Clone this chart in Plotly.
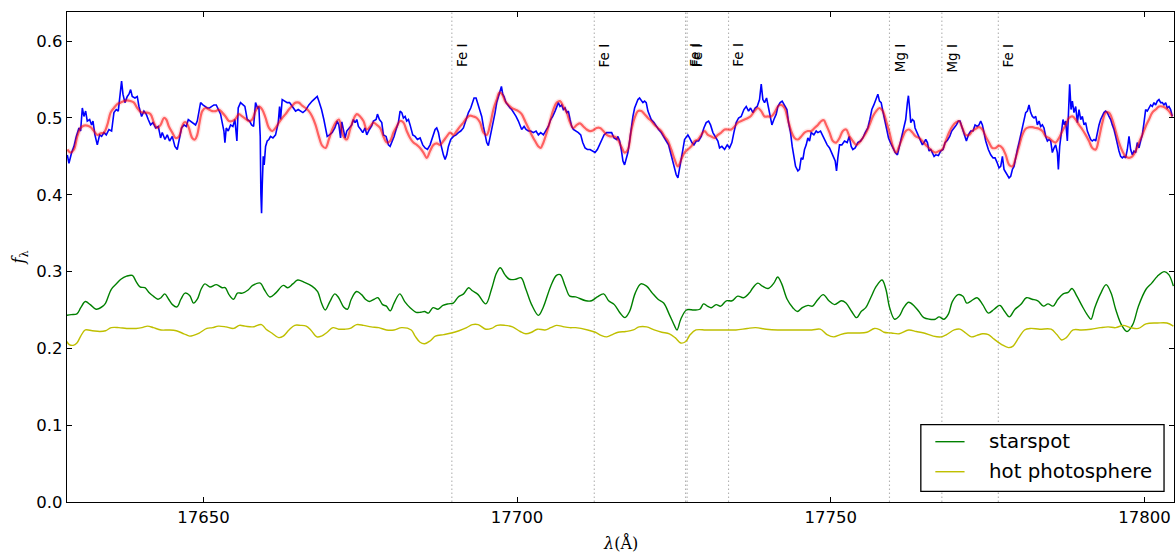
import plotly.graph_objects as go

# ---------------- data ----------------
obs_wl = [17628.31,17628.57,17629.00,17629.37,17629.74,17630.17,17630.43,17630.70,17630.96,17631.23,17631.49,17631.87,17632.18,17632.40,17632.71,17633.09,17633.46,17633.78,17634.15,17634.52,17634.95,17635.37,17635.74,17636.11,17636.43,17636.64,17636.96,17637.18,17637.49,17637.87,17638.13,17638.40,17638.66,17639.09,17639.46,17639.73,17640.15,17640.52,17640.89,17641.21,17641.58,17641.96,17642.38,17642.81,17643.18,17643.44,17643.87,17644.24,17644.61,17645.04,17645.46,17645.83,17646.10,17646.52,17646.90,17647.27,17647.59,17647.96,17648.33,17648.75,17649.02,17649.29,17649.55,17649.92,17650.24,17650.61,17650.98,17651.41,17651.68,17652.05,17652.37,17652.74,17653.00,17653.27,17653.43,17653.64,17653.96,17654.33,17654.70,17655.02,17655.34,17655.55,17655.92,17656.30,17656.61,17656.99,17657.36,17657.68,17658.00,17658.31,17658.63,17658.84,17659.06,17659.16,17659.27,17659.38,17659.54,17659.69,17659.91,17660.17,17660.44,17660.70,17661.08,17661.50,17661.93,17662.14,17662.30,17662.56,17662.99,17663.36,17663.73,17664.16,17664.69,17665.11,17665.48,17665.86,17666.28,17666.81,17667.34,17667.77,17668.14,17668.40,17668.83,17669.20,17669.47,17669.73,17670.10,17670.53,17670.95,17671.33,17671.59,17671.86,
17672.06,17672.32,17672.59,17672.85,17673.28,17673.65,17673.91,17674.18,17674.45,17674.71,17675.08,17675.40,17675.77,17676.04,17676.46,17676.84,17677.10,17677.53,17677.74,17678.06,17678.43,17678.69,17679.12,17679.49,17679.76,17680.02,17680.39,17680.71,17681.08,17681.35,17681.62,17681.88,17682.15,17682.41,17682.68,17682.94,17683.37,17683.74,17684.11,17684.54,17684.96,17685.33,17685.71,17686.13,17686.55,17686.93,17687.19,17687.46,17687.72,17687.99,17688.25,17688.52,17688.79,17689.05,17689.42,17689.85,17690.27,17690.64,17691.02,17691.44,17691.87,17692.24,17692.61,17692.93,17693.14,17693.46,17693.67,17693.99,17694.36,17694.63,17694.89,17695.16,17695.42,17695.69,17695.96,17696.22,17696.49,17696.75,17697.02,17697.28,17697.50,17697.71,17697.92,17698.24,17698.61,17698.88,17699.14,17699.51,17699.83,17700.20,17700.47,17700.73,17701.11,17701.43,17701.80,17702.17,17702.59,17703.02,17703.39,17703.76,17704.19,17704.61,17704.98,17705.36,17705.67,17706.05,17706.31,17706.58,17706.84,17707.11,17707.37,17707.64,17707.91,17708.17,17708.44,17708.70,17708.97,17709.39,17709.76,17710.14,17710.46,17710.83,17711.20,17711.62,17712.05,17712.42,17712.79,17713.11,17713.48,17713.85,17714.28,17714.70,17715.07,17715.45,17715.87,
17716.07,17716.34,17716.60,17716.87,17717.13,17717.40,17717.66,17717.93,17718.19,17718.46,17718.73,17718.99,17719.26,17719.52,17719.79,17720.05,17720.32,17720.58,17720.85,17721.12,17721.38,17721.81,17722.18,17722.55,17722.97,17723.40,17723.77,17724.14,17724.46,17724.83,17725.10,17725.36,17725.63,17725.90,17726.16,17726.43,17726.69,17726.96,17727.22,17727.49,17727.86,17728.18,17728.55,17728.92,17729.35,17729.77,17730.14,17730.52,17730.83,17731.21,17731.58,17732.00,17732.27,17732.64,17733.07,17733.49,17733.86,17734.23,17734.55,17734.92,17735.30,17735.72,17736.15,17736.52,17736.89,17737.21,17737.58,17737.95,17738.27,17738.64,17738.91,17739.17,17739.44,17739.76,17740.08,17740.39,17740.61,17740.93,17741.30,17741.56,17741.93,17742.25,17742.62,17743.00,17743.26,17743.58,17743.85,17744.11,17744.38,17744.75,17745.01,17745.28,17745.55,17745.81,17746.08,17746.34,17746.61,17746.87,17747.30,17747.67,17747.94,17748.36,17748.73,17749.10,17749.42,17749.80,17750.17,17750.49,17750.70,17750.91,17751.12,17751.39,17751.76,17752.18,17752.61,17752.93,17753.25,17753.51,17753.88,17754.31,17754.73,17755.10,17755.48,17755.90,17756.22,17756.54,17756.86,17757.23,17757.50,17757.76,17758.03,17758.29,17758.56,17758.88,17759.20,17759.51,17759.89,17760.26,
17760.62,17760.88,17761.15,17761.41,17761.68,17761.94,17762.21,17762.37,17762.58,17762.74,17763.01,17763.27,17763.43,17763.64,17763.96,17764.33,17764.60,17764.86,17765.13,17765.40,17765.66,17765.93,17766.19,17766.46,17766.72,17767.15,17767.52,17767.89,17768.21,17768.58,17768.95,17769.27,17769.64,17770.02,17770.33,17770.60,17770.87,17771.24,17771.61,17771.93,17772.30,17772.67,17772.99,17773.36,17773.63,17773.89,17774.16,17774.42,17774.69,17775.11,17775.49,17775.86,17776.18,17776.55,17776.81,17777.08,17777.35,17777.61,17777.88,17778.14,17778.41,17778.67,17778.94,17779.20,17779.47,17779.74,17780.00,17780.27,17780.53,17780.80,17781.06,17781.33,17781.59,17781.86,17782.13,17782.39,17782.66,17782.92,17783.19,17783.45,17783.72,17783.98,17784.25,17784.52,17784.78,17785.05,17785.31,17785.58,17785.84,17786.11,17786.27,17786.48,17786.80,17787.01,17787.22,17787.44,17787.70,17787.86,17788.07,17788.29,17788.50,17788.76,17789.03,17789.30,17789.56,17789.83,17790.09,17790.36,17790.62,17790.89,17791.15,17791.42,17791.68,17791.95,17792.22,17792.48,17792.75,17793.01,17793.28,17793.54,17793.81,17794.07,17794.34,17794.61,17794.87,17795.14,17795.40,17795.67,17795.93,17796.20,17796.46,17796.73,17796.99,17797.26,17797.53,17797.79,17798.06,17798.32,17798.59,17798.85,17799.12,17799.38,17799.65,17799.92,17800.18,17800.45,17800.71,17800.98,17801.24,17801.51,17801.77,17802.04,17802.31,17802.57,17802.84,17803.10,17803.37,17803.63,17803.90,17804.16,17804.43]
obs_flux = [0.452,0.441,0.455,0.463,0.476,0.487,0.483,0.513,0.502,0.509,0.496,0.498,0.491,0.496,0.478,0.465,0.478,0.476,0.481,0.478,0.485,0.483,0.507,0.511,0.509,0.522,0.548,0.531,0.520,0.528,0.531,0.537,0.528,0.526,0.528,0.515,0.502,0.509,0.505,0.498,0.491,0.494,0.487,0.489,0.474,0.481,0.472,0.478,0.470,0.476,0.463,0.459,0.472,0.487,0.491,0.489,0.498,0.496,0.494,0.491,0.496,0.511,0.520,0.517,0.515,0.513,0.513,0.515,0.517,0.517,0.511,0.505,0.494,0.483,0.468,0.487,0.483,0.491,0.489,0.498,0.470,0.513,0.520,0.517,0.515,0.498,0.496,0.491,0.489,0.520,0.513,0.515,0.476,0.402,0.376,0.413,0.450,0.439,0.463,0.470,0.472,0.476,0.474,0.478,0.494,0.515,0.498,0.524,0.522,0.520,0.520,0.515,0.509,0.511,0.509,0.507,0.510,0.517,0.522,0.525,0.528,0.522,0.511,0.498,0.487,0.476,0.478,0.481,0.487,0.496,0.491,0.474,
0.495,0.483,0.474,0.483,0.487,0.491,0.498,0.494,0.498,0.489,0.485,0.481,0.487,0.478,0.485,0.490,0.496,0.498,0.505,0.498,0.494,0.478,0.476,0.465,0.463,0.468,0.476,0.485,0.494,0.509,0.507,0.500,0.502,0.496,0.498,0.491,0.478,0.476,0.472,0.474,0.465,0.461,0.459,0.465,0.476,0.485,0.487,0.481,0.470,0.459,0.452,0.446,0.452,0.463,0.472,0.476,0.478,0.481,0.483,0.487,0.498,0.507,0.513,0.520,0.526,0.526,0.520,0.511,0.502,0.489,0.476,0.468,0.464,0.474,0.483,0.496,0.507,0.520,0.528,0.535,0.541,0.531,0.528,0.520,0.515,0.513,0.511,0.507,0.502,0.496,0.491,0.485,0.489,0.485,0.483,0.483,0.481,0.483,0.478,0.481,0.478,0.483,0.489,0.498,0.502,0.509,0.515,0.520,0.515,0.517,0.511,0.513,0.507,0.509,0.498,0.489,0.485,0.483,0.481,0.478,0.468,0.461,0.459,0.459,0.457,0.455,0.459,0.465,0.472,0.478,0.481,0.481,0.481,0.474,0.472,
0.476,0.470,0.459,0.444,0.439,0.446,0.455,0.470,0.487,0.502,0.513,0.520,0.524,0.526,0.522,0.520,0.522,0.520,0.509,0.502,0.498,0.494,0.489,0.485,0.481,0.474,0.470,0.465,0.455,0.444,0.433,0.426,0.422,0.433,0.446,0.459,0.472,0.476,0.478,0.474,0.468,0.465,0.470,0.470,0.476,0.487,0.494,0.496,0.491,0.481,0.476,0.470,0.461,0.463,0.459,0.465,0.461,0.468,0.481,0.494,0.500,0.502,0.511,0.515,0.509,0.513,0.507,0.513,0.515,0.524,0.544,0.524,0.520,0.526,0.513,0.502,0.491,0.498,0.505,0.515,0.520,0.522,0.517,0.511,0.494,0.481,0.463,0.448,0.437,0.431,0.433,0.448,0.446,0.459,0.465,0.474,0.470,0.481,0.478,0.483,0.481,0.483,0.476,0.470,0.465,0.461,0.455,0.448,0.444,0.431,0.448,0.465,0.465,0.470,0.468,0.476,0.463,0.459,0.461,0.468,0.470,0.474,0.481,0.487,0.498,0.511,0.517,0.524,0.531,0.522,0.520,0.509,0.498,0.483,0.474,0.468,0.461,0.455,
0.452,0.461,0.472,0.481,0.489,0.498,0.520,0.529,0.511,0.494,0.498,0.496,0.487,0.483,0.478,0.472,0.465,0.468,0.472,0.468,0.457,0.459,0.455,0.450,0.452,0.451,0.457,0.459,0.468,0.471,0.476,0.483,0.487,0.491,0.496,0.496,0.489,0.478,0.470,0.478,0.483,0.483,0.491,0.489,0.491,0.496,0.491,0.481,0.470,0.459,0.452,0.448,0.448,0.441,0.435,0.437,0.450,0.433,0.429,0.424,0.422,0.424,0.433,0.437,0.450,0.459,0.468,0.478,0.489,0.500,0.507,0.509,0.517,0.507,0.502,0.500,0.502,0.491,0.496,0.489,0.491,0.487,0.476,0.470,0.472,0.470,0.455,0.461,0.465,0.455,0.433,0.463,0.483,0.498,0.491,0.496,0.470,0.515,0.544,0.511,0.522,0.507,0.515,0.494,0.511,0.498,0.502,0.491,0.494,0.483,0.478,0.472,0.470,0.472,0.470,0.483,0.491,0.498,0.502,0.507,0.509,0.507,0.502,0.498,0.491,0.485,0.476,0.465,0.457,0.450,0.448,0.450,0.448,0.459,0.476,0.459,0.452,0.457,0.455,0.468,0.461,0.470,0.478,0.494,0.511,0.509,0.513,0.517,0.515,0.520,0.517,0.522,0.524,0.520,0.520,0.517,0.520,0.513,0.515,0.511,0.502]

model_wl = [17628.31,17628.84,17629.37,17629.90,17630.43,17630.96,17631.49,17632.02,17632.56,17633.09,17633.62,17634.15,17634.68,17635.21,17635.74,17636.27,17636.80,17637.34,17637.87,17638.40,17638.93,17639.46,17639.99,17640.52,17641.05,17641.58,17642.11,17642.65,17643.18,17643.71,17644.08,17644.50,17645.04,17645.57,17646.10,17646.52,17646.90,17647.27,17647.69,17648.22,17648.65,17649.02,17649.39,17649.82,17650.35,17650.88,17651.41,17651.94,17652.47,17653.00,17653.53,17654.07,17654.60,17655.13,17655.66,17656.19,17656.72,17657.25,17657.78,17658.31,17658.84,17659.38,17659.91,17660.44,17660.97,17661.50,17662.03,17662.56,17663.09,17663.62,17664.16,17664.69,17665.22,17665.75,17666.28,17666.81,17667.34,17667.87,17668.40,17668.93,17669.47,17670.00,17670.53,17671.06,17671.59,
17672.32,17672.85,17673.38,17673.91,17674.45,17674.98,17675.51,17676.04,17676.57,17677.10,17677.63,17678.16,17678.69,17679.23,17679.76,17680.29,17680.82,17681.35,17681.88,17682.41,17682.94,17683.47,17684.01,17684.54,17685.07,17685.60,17686.13,17686.66,17687.19,17687.72,17688.25,17688.79,17689.32,17689.85,17690.38,17690.91,17691.44,17691.97,17692.50,17693.03,17693.57,17694.10,17694.63,17695.16,17695.69,17696.22,17696.75,17697.18,17697.60,17698.08,17698.61,17699.14,17699.67,17700.20,17700.73,17701.27,17701.80,17702.33,17702.86,17703.39,17703.76,17704.19,17704.72,17705.25,17705.78,17706.31,17706.84,17707.37,17707.91,17708.44,17708.97,17709.50,17710.03,17710.56,17711.09,17711.62,17712.15,17712.68,17713.22,17713.75,17714.28,17714.81,17715.34,17715.87,
17716.60,17717.13,17717.66,17718.19,17718.73,17719.26,17719.79,17720.32,17720.85,17721.38,17721.91,17722.44,17722.97,17723.50,17724.04,17724.57,17725.10,17725.63,17726.16,17726.69,17727.22,17727.75,17728.29,17728.82,17729.35,17729.88,17730.41,17730.94,17731.47,17732.00,17732.53,17733.07,17733.60,17734.13,17734.66,17735.19,17735.72,17736.25,17736.78,17737.31,17737.85,17738.38,17738.91,17739.44,17739.97,17740.50,17741.03,17741.56,17742.09,17742.62,17743.16,17743.69,17744.22,17744.75,17745.28,17745.81,17746.34,17746.87,17747.40,17747.94,17748.47,17748.89,17749.26,17749.80,17750.33,17750.86,17751.39,17751.92,17752.45,17752.98,17753.51,17754.04,17754.57,17755.10,17755.64,17756.17,17756.70,17757.23,17757.76,17758.29,17758.82,17759.35,17759.89,17760.42,
17760.88,17761.41,17761.94,17762.47,17763.01,17763.54,17764.07,17764.60,17765.13,17765.66,17766.19,17766.72,17767.25,17767.78,17768.32,17768.85,17769.38,17769.91,17770.44,17770.97,17771.50,17772.03,17772.57,17773.10,17773.63,17774.16,17774.69,17775.22,17775.75,17776.28,17776.81,17777.35,17777.88,17778.41,17778.94,17779.47,17780.00,17780.53,17781.06,17781.59,17782.13,17782.66,17783.19,17783.72,17784.25,17784.78,17785.31,17785.84,17786.37,17786.91,17787.44,17787.97,17788.50,17789.03,17789.56,17790.09,17790.62,17791.15,17791.68,17792.22,17792.75,17793.28,17793.81,17794.34,17794.87,17795.40,17795.93,17796.46,17796.99,17797.53,17798.06,17798.59,17799.12,17799.65,17800.18,17800.71,17801.24,17801.77,17802.31,17802.84,17803.37,17803.90,17804.43]
model_flux = [0.459,0.455,0.459,0.476,0.487,0.490,0.490,0.488,0.483,0.478,0.480,0.481,0.491,0.507,0.513,0.518,0.520,0.522,0.523,0.522,0.520,0.513,0.508,0.507,0.507,0.505,0.494,0.487,0.491,0.500,0.498,0.489,0.481,0.474,0.476,0.487,0.494,0.494,0.487,0.474,0.472,0.478,0.494,0.509,0.513,0.511,0.509,0.509,0.511,0.507,0.502,0.496,0.496,0.499,0.505,0.502,0.499,0.496,0.498,0.509,0.515,0.511,0.500,0.487,0.483,0.487,0.494,0.500,0.505,0.511,0.516,0.520,0.520,0.516,0.513,0.509,0.502,0.491,0.476,0.464,0.461,0.472,0.485,0.494,0.498,
0.476,0.472,0.485,0.498,0.505,0.502,0.496,0.485,0.489,0.494,0.491,0.487,0.476,0.468,0.470,0.481,0.489,0.496,0.494,0.483,0.474,0.468,0.465,0.461,0.455,0.448,0.457,0.465,0.467,0.465,0.470,0.476,0.481,0.478,0.483,0.489,0.494,0.500,0.503,0.502,0.500,0.494,0.481,0.478,0.491,0.511,0.524,0.533,0.531,0.522,0.517,0.513,0.511,0.509,0.505,0.496,0.487,0.478,0.470,0.463,0.461,0.468,0.481,0.496,0.511,0.520,0.522,0.515,0.507,0.494,0.487,0.491,0.493,0.489,0.485,0.483,0.484,0.487,0.487,0.483,0.478,0.476,0.476,0.474,
0.463,0.455,0.459,0.483,0.500,0.509,0.509,0.505,0.500,0.496,0.491,0.487,0.483,0.476,0.470,0.459,0.446,0.437,0.446,0.455,0.459,0.463,0.470,0.472,0.478,0.483,0.478,0.476,0.474,0.478,0.481,0.485,0.485,0.485,0.489,0.494,0.496,0.498,0.500,0.503,0.509,0.513,0.509,0.502,0.502,0.502,0.507,0.515,0.517,0.513,0.498,0.483,0.474,0.472,0.476,0.481,0.483,0.483,0.487,0.491,0.496,0.497,0.491,0.481,0.470,0.468,0.474,0.483,0.485,0.476,0.470,0.465,0.468,0.474,0.481,0.491,0.502,0.509,0.513,0.509,0.496,0.481,0.463,0.455,
0.463,0.474,0.483,0.485,0.481,0.476,0.474,0.470,0.465,0.461,0.457,0.455,0.457,0.459,0.470,0.481,0.489,0.494,0.496,0.487,0.478,0.478,0.483,0.486,0.488,0.485,0.476,0.468,0.461,0.461,0.464,0.461,0.452,0.439,0.437,0.448,0.463,0.478,0.486,0.488,0.488,0.487,0.486,0.483,0.476,0.474,0.470,0.468,0.474,0.483,0.491,0.500,0.502,0.498,0.491,0.485,0.478,0.470,0.461,0.459,0.474,0.494,0.507,0.507,0.498,0.483,0.468,0.457,0.450,0.448,0.450,0.457,0.468,0.478,0.489,0.498,0.507,0.511,0.515,0.515,0.513,0.509,0.502]

spot_wl = [17628.20,17628.93,17629.84,17630.45,17631.18,17631.97,17632.89,17633.98,17634.41,17635.32,17636.24,17636.85,17637.76,17638.67,17639.28,17639.89,17640.68,17641.41,17642.02,17642.75,17643.24,17643.85,17644.46,17645.07,17645.80,17646.41,17647.08,17647.81,17648.42,17649.03,17649.63,17650.24,17651.04,17652.07,17652.98,17653.47,17654.08,17654.81,17655.42,17656.21,17657.13,17657.86,17659.07,17659.68,17660.60,17661.51,17662.73,17663.46,17664.25,17665.04,17666.08,17667.30,17668.21,17668.82,17669.43,17670.16,17670.95,17671.56,17672.35,17672.96,17673.57,17674.42,17675.21,17675.82,17676.43,17677.22,17677.83,17678.56,17679.17,17679.78,17680.39,17681.30,17682.09,17682.95,17683.92,17684.65,17685.26,17685.87,17686.60,17687.39,17688.18,17689.04,17689.83,17690.62,17691.47,17692.26,17692.87,17693.79,17695.01,17695.92,17696.71,17697.32,17698.05,17698.78,17699.76,17700.61,17701.40,17702.31,17703.41,17704.14,17705.36,17706.27,17706.88,17707.67,17708.40,17709.32,17710.96,17711.87,17712.77,17713.80,17714.59,17715.50,17716.41,17717.19,17717.92,17718.83,17719.73,17720.64,17721.55,17722.46,17723.36,17724.27,17725.06,17725.49,17726.09,17727.00,17728.21,17729.12,17729.72,17730.33,17730.93,17731.72,17732.45,17733.35,17734.26,17735.17,17736.08,17736.99,17737.59,17738.38,17739.10,17740.01,17740.92,17741.53,17742.13,17743.04,17743.95,17744.67,17745.46,17746.37,17747.09,17747.88,17748.79,17749.70,17750.61,17751.69,17752.42,17753.33,17754.12,17754.84,17755.57,17756.36,17757.26,17758.17,17758.78,17759.38,17760.17,17760.90,17761.62,17762.41,17763.32,17764.04,17764.83,17765.74,17766.65,17767.25,17768.04,17768.76,17769.37,17770.28,17771.06,17771.67,17772.40,17773.30,17774.21,17775.12,17776.03,17776.94,17777.72,17778.45,17779.36,17780.27,17781.17,17782.08,17782.99,17783.90,17784.62,17785.41,17786.20,17787.04,17787.83,17788.44,17789.22,17790.07,17790.86,17791.46,17792.07,17792.98,17793.88,17794.67,17795.40,17796.31,17797.21,17798.12,17799.03,17800.24,17801.15,17802.06,17803.15,17803.87,17804.60]
spot_flux = [0.243,0.244,0.245,0.253,0.261,0.257,0.251,0.255,0.259,0.277,0.285,0.290,0.294,0.295,0.287,0.280,0.279,0.272,0.268,0.264,0.266,0.271,0.264,0.257,0.254,0.264,0.272,0.269,0.259,0.264,0.277,0.284,0.280,0.283,0.279,0.279,0.270,0.264,0.272,0.272,0.276,0.282,0.285,0.277,0.267,0.272,0.282,0.279,0.284,0.289,0.286,0.281,0.274,0.259,0.250,0.261,0.271,0.266,0.254,0.251,0.264,0.274,0.270,0.264,0.261,0.264,0.266,0.257,0.255,0.249,0.259,0.271,0.261,0.253,0.247,0.247,0.248,0.246,0.253,0.251,0.256,0.258,0.259,0.267,0.271,0.279,0.275,0.270,0.258,0.277,0.298,0.305,0.296,0.290,0.290,0.292,0.277,0.257,0.243,0.253,0.281,0.295,0.296,0.281,0.268,0.267,0.262,0.262,0.267,0.271,0.262,0.257,0.246,0.240,0.248,0.272,0.284,0.281,0.272,0.264,0.259,0.244,0.230,0.224,0.238,0.250,0.250,0.251,0.258,0.255,0.253,0.257,0.255,0.262,0.262,0.268,0.266,0.272,0.279,0.285,0.281,0.278,0.285,0.293,0.285,0.264,0.253,0.248,0.253,0.256,0.255,0.263,0.270,0.262,0.257,0.262,0.259,0.248,0.240,0.248,0.253,0.266,0.281,0.289,0.277,0.253,0.238,0.242,0.253,0.260,0.255,0.248,0.240,0.238,0.238,0.241,0.238,0.245,0.261,0.270,0.268,0.259,0.262,0.266,0.257,0.246,0.251,0.256,0.248,0.241,0.251,0.257,0.266,0.264,0.262,0.255,0.258,0.255,0.264,0.271,0.273,0.278,0.268,0.255,0.244,0.238,0.253,0.271,0.283,0.272,0.251,0.231,0.222,0.231,0.255,0.277,0.285,0.294,0.300,0.296,0.281]

hot_wl = [17628.20,17628.62,17629.23,17629.84,17630.45,17631.18,17632.28,17633.50,17634.41,17635.32,17636.54,17637.76,17639.28,17640.20,17641.11,17642.02,17643.24,17644.46,17645.68,17646.89,17647.81,17648.42,17649.33,17650.55,17651.46,17652.38,17653.59,17654.81,17655.72,17656.64,17657.86,17659.26,17659.99,17660.90,17662.00,17662.73,17663.64,17664.56,17665.47,17666.38,17667.11,17668.09,17668.82,17669.73,17670.65,17671.56,17672.47,17673.39,17674.42,17675.52,17676.74,17677.95,17679.17,17680.39,17681.61,17683.13,17683.74,17684.53,17685.26,17686.17,17686.97,17688.31,17689.52,17690.74,17691.96,17692.87,17693.79,17695.01,17695.92,17696.83,17698.05,17699.27,17700.49,17701.40,17702.31,17703.23,17704.44,17705.36,17706.27,17707.49,17708.40,17709.32,17711.26,17712.47,17713.38,17714.29,17715.20,17716.10,17717.31,17718.52,17719.43,17720.64,17721.85,17723.06,17724.27,17725.18,17726.09,17726.88,17727.60,17728.51,17730.03,17731.24,17733.05,17734.87,17736.68,17738.02,17739.71,17741.53,17743.34,17745.16,17746.97,17748.31,17749.39,17750.48,17751.51,17752.72,17754.24,17755.75,17756.96,17757.87,17758.47,17759.68,17760.90,17762.41,17763.62,17764.83,17766.34,17767.55,17768.46,17769.67,17770.58,17771.49,17772.40,17773.30,17774.21,17775.12,17776.03,17777.24,17778.33,17779.05,17779.96,17780.87,17781.78,17783.29,17785.11,17786.02,17786.80,17787.53,17788.62,17789.95,17791.46,17792.98,17794.19,17795.40,17796.61,17797.82,17799.03,17800.24,17802.06,17803.57,17804.60]
hot_flux = [0.209,0.205,0.204,0.207,0.216,0.224,0.223,0.222,0.223,0.227,0.227,0.226,0.226,0.227,0.229,0.227,0.224,0.224,0.223,0.219,0.216,0.217,0.220,0.226,0.227,0.229,0.228,0.226,0.230,0.229,0.228,0.231,0.225,0.220,0.214,0.216,0.224,0.230,0.230,0.229,0.224,0.215,0.216,0.221,0.227,0.225,0.225,0.226,0.231,0.230,0.228,0.227,0.224,0.224,0.227,0.224,0.216,0.208,0.206,0.210,0.216,0.218,0.220,0.223,0.227,0.231,0.231,0.225,0.226,0.230,0.230,0.228,0.222,0.219,0.221,0.225,0.224,0.227,0.230,0.228,0.227,0.227,0.224,0.221,0.217,0.215,0.218,0.221,0.222,0.224,0.228,0.228,0.224,0.221,0.219,0.214,0.207,0.209,0.218,0.224,0.224,0.224,0.224,0.224,0.226,0.227,0.225,0.224,0.224,0.224,0.224,0.225,0.218,0.215,0.218,0.220,0.220,0.221,0.226,0.224,0.221,0.220,0.219,0.224,0.222,0.220,0.216,0.215,0.218,0.224,0.225,0.220,0.215,0.217,0.219,0.218,0.212,0.205,0.201,0.203,0.214,0.224,0.226,0.225,0.225,0.218,0.211,0.214,0.224,0.224,0.225,0.227,0.228,0.227,0.230,0.227,0.226,0.232,0.233,0.233,0.229]

line_wl = [17689.6, 17712.3, 17726.85, 17727.1, 17733.7, 17759.35, 17767.7, 17776.7]
line_names = ["Fe I", "Fe I", "Fe I", "Fe I", "Fe I", "Mg I", "Mg I", "Fe I"]

x_ticks = [17650, 17700, 17750, 17800]
y_ticks = [0.0, 0.1, 0.2, 0.3, 0.4, 0.5, 0.6]
x_range = [17628.26, 17804.7]
y_range = [0.0, 0.638]

# ---------------- figure ----------------
FONT = "DejaVu Sans"
fig = go.Figure()

for wl in line_wl:
    fig.add_shape(type="line", xref="x", yref="paper", x0=wl, x1=wl, y0=0, y1=1,
                  line=dict(color="rgba(170,170,170,0.9)", width=1.1, dash="1.5px,2.5px"), layer="below")

fig.add_trace(go.Scatter(x=obs_wl, y=obs_flux, mode="lines",
                         line=dict(color="#0000ff", width=1.6), showlegend=False, hoverinfo="skip"))
# model draws (semi-transparent red)
fig.add_trace(go.Scatter(x=model_wl, y=model_flux, mode="lines", line_shape="spline",
                         line=dict(color="rgba(255,0,0,0.10)", width=5), showlegend=False, hoverinfo="skip"))
fig.add_trace(go.Scatter(x=model_wl, y=model_flux, mode="lines", line_shape="spline",
                         line=dict(color="rgba(255,0,0,0.58)", width=2.2), showlegend=False, hoverinfo="skip"))
fig.add_trace(go.Scatter(x=spot_wl, y=spot_flux, mode="lines", line_shape="spline", name="starspot",
                         line=dict(color="#008000", width=1.4), showlegend=False))
fig.add_trace(go.Scatter(x=hot_wl, y=hot_flux, mode="lines", line_shape="spline", name="hot photosphere",
                         line=dict(color="#bfbf00", width=1.4), showlegend=False))

annotations = []
for wl, name in zip(line_wl, line_names):
    annotations.append(dict(x=wl, y=0.6, xref="x", yref="y", text=name, showarrow=False,
                            textangle=-90, xanchor="left", yanchor="top",
                            font=dict(family=FONT, size=13.5, color="black")))

annotations.append(dict(x=-0.043, y=0.5, xref="paper", yref="paper", text="<i>f</i><sub>λ</sub>",
                        showarrow=False, textangle=-90, xanchor="center", yanchor="middle",
                        font=dict(family="DejaVu Serif", size=16, color="black")))
annotations.append(dict(x=0.5, y=-0.083, xref="paper", yref="paper", text="<i>λ</i>(Å)",
                        showarrow=False, xanchor="center", yanchor="middle",
                        font=dict(family="DejaVu Serif", size=16, color="black")))

# legend box
fig.add_shape(type="rect", xref="paper", yref="paper", x0=0.7713, x1=0.9910, y0=0.0216, y1=0.1578,
              line=dict(color="black", width=1.3), fillcolor="white", layer="above")
legend_items = [("starspot", "#008000", 0.1231), ("hot photosphere", "#bfbf00", 0.0618)]
for label, color, yy in legend_items:
    fig.add_shape(type="line", xref="paper", yref="paper", x0=0.7844, x1=0.8108, y0=yy, y1=yy,
                  line=dict(color=color, width=1.4), layer="above")
    annotations.append(dict(x=0.8314, y=yy, xref="paper", yref="paper", text=label, showarrow=False,
                            xanchor="left", yanchor="middle",
                            font=dict(family=FONT, size=19.8, color="black")))

axis_common = dict(showline=True, linecolor="black", linewidth=1.3, mirror="ticks",
                   ticks="inside", ticklen=5, tickwidth=1, tickcolor="black",
                   showgrid=False, zeroline=False,
                   tickfont=dict(family=FONT, size=16.5, color="black"))

fig.update_layout(
    width=1176, height=552,
    margin=dict(l=66.7, r=1.7, t=12.3, b=49.7),
    paper_bgcolor="white", plot_bgcolor="white",
    showlegend=False,
    annotations=annotations,
    xaxis=dict(range=x_range, tickvals=x_ticks, tickformat="d", **axis_common),
    yaxis=dict(range=y_range, tickvals=y_ticks, tickformat=".1f", **axis_common),
)

fig.write_html("out.html", config={"displayModeBar": False},
               post_script="document.body.style.margin='0';document.body.style.overflow='hidden';")
